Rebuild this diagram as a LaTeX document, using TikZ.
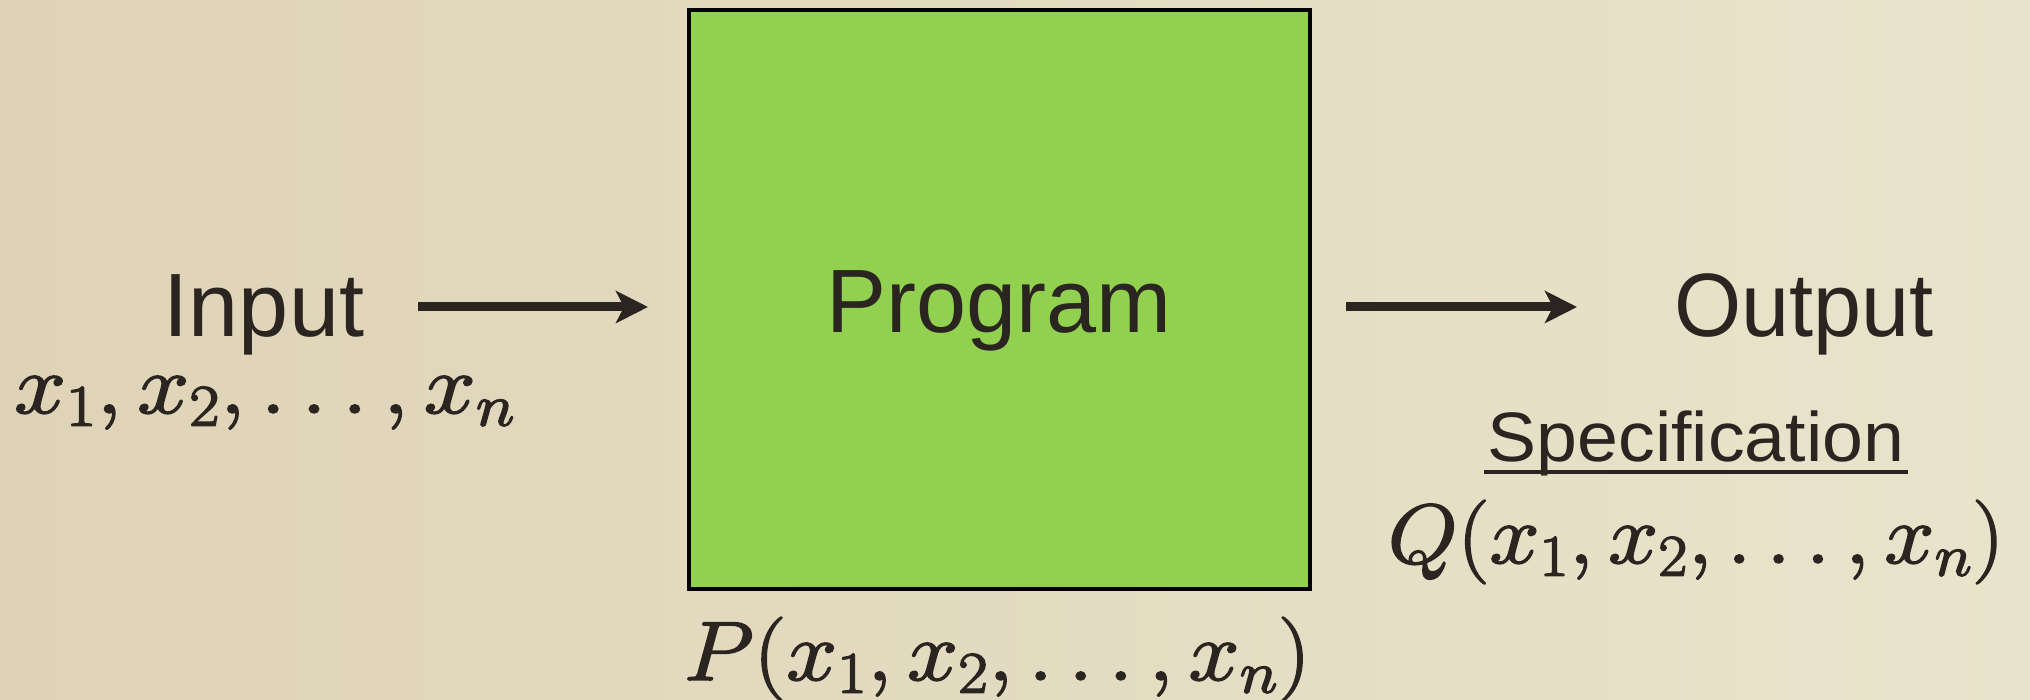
\RequirePackage{fix-cm}
\documentclass[tikz,border=0pt]{standalone}
\usepackage{fontspec}
\setmainfont{Liberation Sans}
\usetikzlibrary{arrows.meta}
\definecolor{ink}{HTML}{2A2520}
\definecolor{boxgreen}{HTML}{92D050}
\definecolor{bgleft}{RGB}{223,211,183}
\definecolor{bgmid}{RGB}{235,230,206}
\definecolor{bgright}{RGB}{232,228,203}
% heavier math strokes: fill and stroke the glyph outlines
\newcommand{\heavymath}[2]{%
  \special{pdf:literal direct 2 Tr 1.6 w 1 j}%
  \scalebox{#1}[1]{$#2$}%
  \special{pdf:literal direct 0 Tr}}
\tikzset{
  label/.style={text=ink, inner sep=0pt, font=\fontsize{90}{100}\selectfont},
  mathlabel/.style={text=ink, inner sep=0pt, font=\fontsize{84}{96}\selectfont},
  speclabel/.style={text=ink, inner sep=0pt, font=\fontsize{70}{80}\selectfont},
  progbox/.style={draw=black, line width=4pt, fill=boxgreen},
  flow/.style={draw=ink, line width=9pt, -{Stealth[length=32pt, width=32pt, inset=8pt]}},
  rule/.style={draw=ink, line width=4pt}
}
\begin{document}
\begin{tikzpicture}[x=1pt, y=1pt]
  % paper-like background
  \shade[left color=bgleft, middle color=bgmid, right color=bgright] (0,0) rectangle (2030,700);
  \useasboundingbox (0,0) rectangle (2030,700);

  % the program box
  \draw[progbox] (689,111) rectangle (1310,690);
  \node[label, anchor=base] (prog) at (999,367) {Program};

  % input side
  \node[label, anchor=base] (in) at (264,363) {Input};
  \node[mathlabel, anchor=base west] (xs) at (14,287) {\heavymath{1.11}{x_1, x_2, \ldots, x_n}};

  % output side
  \node[label, anchor=base] (out) at (1804,363) {\scalebox{0.96}[1]{Output}};
  \node[speclabel, anchor=base] (spec) at (1696,238) {\scalebox{1.05}[1]{Specification}};
  \draw[rule] ([xshift=-3pt, yshift=-10pt]spec.base west) -- ([xshift=3pt, yshift=-10pt]spec.base east);
  \node[mathlabel, anchor=base] (q) at (1696,137) {\heavymath{1.07}{Q(x_1, x_2, \ldots, x_n)}};

  % program meaning below the box
  \node[mathlabel, anchor=base] (p) at (997,20) {\heavymath{1.09}{P(x_1, x_2, \ldots, x_n)}};

  % arrows
  \coordinate (a1) at (418,393);
  \coordinate (b1) at (648,393);
  \coordinate (a2) at (1346,393);
  \coordinate (b2) at (1577,393);
  \draw[flow] (a1) -- (b1);
  \draw[flow] (a2) -- (b2);
\end{tikzpicture}
\end{document}
